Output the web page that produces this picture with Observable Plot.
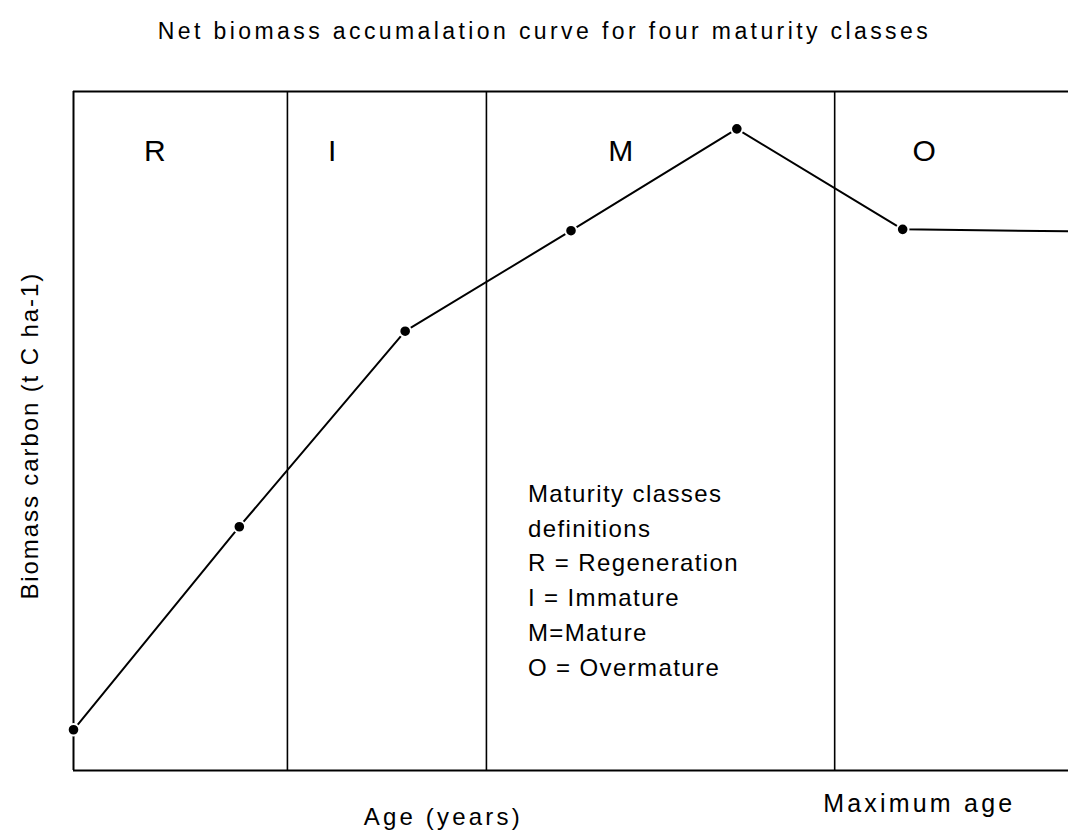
<!DOCTYPE html>
<html>
<head>
<meta charset="utf-8">
<script src="https://cdn.jsdelivr.net/npm/d3@7"></script>
<script src="https://cdn.jsdelivr.net/npm/@observablehq/plot@0.6"></script>
<style>
  html, body { margin: 0; padding: 0; background: #fff; }
  svg { display: block; }
</style>
</head>
<body>
<div id="chart"></div>
<script>
// Age steps (relative units) and biomass carbon (relative units)
const ages = [0, 1, 2, 3, 4, 5, 6];
const biomass = [6.0, 35.9, 64.7, 79.5, 94.5, 79.7, 79.4];
const markedAges = [0, 1, 2, 3, 4, 5];

// Maturity class boundaries and labels
const classBoundaries = [1.29, 2.49, 4.59];
const classNames = ["R", "I", "M", "O"];
const classLabelAges = [0.49, 1.56, 3.30, 5.13];

const titleText = "Net biomass accumalation curve for four maturity classes";
const xLabel = "Age (years)";
const maxAgeLabel = "Maximum age";
const yLabel = "Biomass carbon (t C ha-1)";
const legendLines = ["Maturity classes", "definitions", "R = Regeneration", "I = Immature", "M=Mature", "O = Overmature"];

const curve = ages.map((a, i) => ({age: a, c: biomass[i]}));
const dots = curve.filter(d => markedAges.includes(d.age));
const classLabels = classNames.map((n, i) => ({name: n, age: classLabelAges[i]}));

const font = "'Liberation Sans', Arial, Helvetica, sans-serif";

const chart = Plot.plot({
  width: 1068,
  height: 836,
  marginLeft: 73,
  marginRight: 0,
  marginTop: 91,
  marginBottom: 66,
  x: {domain: [0, 6], axis: null},
  y: {domain: [0, 100], axis: null},
  style: {fontFamily: font, color: "#000", background: "#fff"},
  marks: [
    // frame
    Plot.ruleY([0, 100], {stroke: "#000", strokeWidth: 2}),
    Plot.ruleX([0], {stroke: "#000", strokeWidth: 2}),
    // class boundaries
    Plot.ruleX(classBoundaries, {stroke: "#000", strokeWidth: 1.6}),
    // curve
    Plot.line(curve, {x: "age", y: "c", stroke: "#000", strokeWidth: 2}),
    Plot.dot(dots, {x: "age", y: "c", r: 5.8, fill: "#000", stroke: "#fff", strokeWidth: 2}),
    // class letters
    Plot.text(classLabels, {x: "age", y: 100, text: "name", dy: 69, lineAnchor: "bottom", fontSize: 30, fill: "#000", ariaDescription: "classes"}),
    // legend block
    Plot.text([legendLines.join("\n")], {x: 2.74, y: 28.4, textAnchor: "start", lineAnchor: "middle", lineHeight: 1.45, fontSize: 24, fill: "#000", ariaDescription: "legend"}),
    // title
    Plot.text([titleText], {x: 2.84, y: 100, dy: -53, lineAnchor: "bottom", fontSize: 23, fill: "#000", ariaDescription: "title"}),
    // x labels
    Plot.text([xLabel], {x: 2.23, y: 0, dy: 54, lineAnchor: "bottom", fontSize: 24, fill: "#000", ariaDescription: "xlabel"}),
    Plot.text([maxAgeLabel], {x: 5.1, y: 0, dy: 41, lineAnchor: "bottom", fontSize: 25, fill: "#000", ariaDescription: "maxage"}),
    // y label
    Plot.text([yLabel], {x: 0, y: 49.3, dx: -43, rotate: -90, textAnchor: "middle", lineAnchor: "middle", fontSize: 24, fill: "#000", ariaDescription: "ylabel"})
  ]
});
const spacing = {title: 3.4, legend: 1.4, xlabel: 3.2, maxage: 3.2, ylabel: 1.9, classes: 0};
for (const [k, v] of Object.entries(spacing)) {
  d3.select(chart).selectAll(`g[aria-description="${k}"] text`).attr("letter-spacing", v + "px");
}
document.getElementById("chart").appendChild(chart);
</script>
</body>
</html>
